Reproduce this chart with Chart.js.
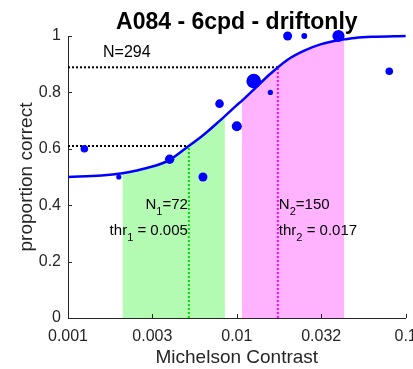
<!DOCTYPE html>
<html>
<head>
<meta charset="utf-8">
<script src="https://cdn.jsdelivr.net/npm/chart.js@4.4.1/dist/chart.umd.min.js"></script>
<style>
    html, body { margin: 0; padding: 0; background: #fff; }
</style>
</head>
<body>
<canvas id="psy-chart" width="413" height="369"></canvas>
<script>
const chartTitle = "A084 - 6cpd - driftonly";

// data points: contrast, proportion correct, number of trials
const contrast = [0.00125, 0.002, 0.004, 0.0063, 0.0079, 0.01, 0.0126, 0.0158, 0.02, 0.0251, 0.04, 0.08];
const pCorrect = [0.60, 0.50, 0.563, 0.50, 0.76, 0.68, 0.84, 0.80, 1.0, 1.0, 1.0, 0.875];
const nTrials = [17, 8, 26, 24, 22, 30, 64, 8, 24, 10, 44, 17];

// fitted curve
const fitX = [0.001, 0.00158, 0.0021, 0.00251, 0.00316, 0.00398, 0.00501, 0.00631, 0.00794, 0.0085, 0.01, 0.0107, 0.0126, 0.0158, 0.02, 0.0251, 0.0316, 0.0398, 0.0433, 0.0501, 0.0631, 0.1];
const fitY = [0.50, 0.505, 0.513, 0.522, 0.537, 0.56, 0.603, 0.648, 0.70, 0.716, 0.755, 0.77, 0.81, 0.866, 0.916, 0.948, 0.971, 0.985, 0.988, 0.993, 0.997, 1.0];

// shaded ranges and thresholds
const range1 = [0.0021, 0.0085];
const range2 = [0.0107, 0.0433];
const thresholds = [0.0052, 0.0175];
const thrLevels = [0.61, 0.889];
const thrLabels = ["0.005", "0.017"];
const nTotal = 294;
const nRanges = [72, 150];

// axis ticks
const xTicks = [0.001, 0.00316, 0.01, 0.0316, 0.1];
const xTickLabels = ["0.001", "0.003", "0.01", "0.032", "0.1"];
const yTicks = [0, 0.2, 0.4, 0.6, 0.8, 1];

const FONT = "'Liberation Sans', Arial, sans-serif";
const AXIS_COLOR = "#262626";

const toPts = (xs, ys) => xs.map((x, i) => ({ x: x, y: ys[i] }));
const fitPts = toPts(fitX, fitY);
const inRange = r => fitPts.filter(p => p.x >= r[0] && p.x <= r[1]);

// draw text with a subscript part, anchored left or right
function drawSubText(ctx, parts, x, y, align) {
    const big = "15px " + FONT, small = "11px " + FONT;
    let w = 0;
    parts.forEach(p => {
        ctx.font = p.sub ? small : big;
        w += ctx.measureText(p.t).width;
    });
    let cx = align === "right" ? x - w : x;
    ctx.textAlign = "left";
    ctx.textBaseline = "alphabetic";
    parts.forEach(p => {
        ctx.font = p.sub ? small : big;
        ctx.fillText(p.t, cx, p.sub ? y + 6 : y);
        cx += ctx.measureText(p.t).width;
    });
}

const decorPlugin = {
    id: "decor",
    afterDraw(chart) {
        const ctx = chart.ctx;
        const xs = chart.scales.x, ys = chart.scales.y;
        const area = chart.chartArea;
        ctx.save();

        // inward tick marks
        ctx.strokeStyle = AXIS_COLOR;
        ctx.lineWidth = 1;
        ctx.beginPath();
        xTicks.forEach(v => {
            const px = Math.round(xs.getPixelForValue(v)) + 0.5;
            ctx.moveTo(px, area.bottom);
            ctx.lineTo(px, area.bottom - 4);
        });
        yTicks.forEach(v => {
            const py = Math.round(ys.getPixelForValue(v)) + 0.5;
            ctx.moveTo(area.left, py);
            ctx.lineTo(area.left + 4, py);
        });
        ctx.stroke();

        // title
        ctx.fillStyle = "#000";
        ctx.font = "bold 23px " + FONT;
        ctx.textAlign = "center";
        ctx.textBaseline = "alphabetic";
        ctx.fillText(chartTitle, (area.left + area.right) / 2, 29);

        // annotations
        ctx.font = "16px " + FONT;
        ctx.textAlign = "left";
        ctx.fillText("N=" + nTotal, 103, 57);

        const t1 = xs.getPixelForValue(thresholds[0]) - 1;
        const t2 = xs.getPixelForValue(thresholds[1]) + 1;
        drawSubText(ctx, [{ t: "N" }, { t: "1", sub: true }, { t: "=" + nRanges[0] }], t1, 209, "right");
        drawSubText(ctx, [{ t: "thr" }, { t: "1", sub: true }, { t: " = " + thrLabels[0] }], t1, 235, "right");
        drawSubText(ctx, [{ t: "N" }, { t: "2", sub: true }, { t: "=" + nRanges[1] }], t2, 209, "left");
        drawSubText(ctx, [{ t: "thr" }, { t: "2", sub: true }, { t: " = " + thrLabels[1] }], t2, 235, "left");
        ctx.restore();
    }
};

const dotted = (color, pts) => ({
    data: pts,
    showLine: true,
    borderColor: color,
    borderWidth: 2,
    borderDash: [2, 2],
    pointRadius: 0,
    fill: false
});

const shade = (color, pts) => ({
    data: pts,
    showLine: true,
    borderWidth: 0,
    borderColor: "rgba(0,0,0,0)",
    backgroundColor: color,
    pointRadius: 0,
    cubicInterpolationMode: "monotone",
    fill: "origin"
});

new Chart(document.getElementById("psy-chart"), {
    type: "scatter",
    data: {
        datasets: [
            {
                // observed points, size by trial count
                data: toPts(contrast, pCorrect),
                backgroundColor: "#0000ff",
                borderColor: "#0000ff",
                borderWidth: 0,
                pointRadius: nTrials.map(n => 0.92 * Math.sqrt(n)),
                clip: false
            },
            {
                data: fitPts,
                showLine: true,
                borderColor: "#0000ff",
                borderWidth: 2.5,
                pointRadius: 0,
                cubicInterpolationMode: "monotone",
                fill: false,
                clip: false
            },
            dotted("#000000", [{ x: 0.001, y: thrLevels[0] }, { x: thresholds[0], y: thrLevels[0] }]),
            dotted("#000000", [{ x: 0.001, y: thrLevels[1] }, { x: thresholds[1], y: thrLevels[1] }]),
            dotted("#00dd00", [{ x: thresholds[0], y: 0 }, { x: thresholds[0], y: thrLevels[0] }]),
            dotted("#ff00ff", [{ x: thresholds[1], y: 0 }, { x: thresholds[1], y: thrLevels[1] }]),
            shade("rgb(179,250,179)", inRange(range1)),
            shade("rgb(255,179,255)", inRange(range2))
        ]
    },
    options: {
        responsive: false,
        animation: false,
        events: [],
        layout: { padding: { top: 36, right: 7, left: 0, bottom: 0 } },
        plugins: {
            legend: { display: false },
            tooltip: { enabled: false }
        },
        scales: {
            x: {
                type: "logarithmic",
                min: 0.001,
                max: 0.1,
                afterBuildTicks: s => { s.ticks = xTicks.map(v => ({ value: v })); },
                afterFit: s => { s.height = 51; s.paddingLeft = 0; s.paddingRight = 0; },
                ticks: {
                    color: AXIS_COLOR,
                    font: { family: FONT, size: 16 },
                    padding: 9,
                    maxRotation: 0,
                    callback: (v, i) => xTickLabels[i]
                },
                grid: { display: false, drawTicks: false },
                border: { display: true, color: AXIS_COLOR, width: 1 },
                title: {
                    display: true,
                    text: "Michelson Contrast",
                    color: AXIS_COLOR,
                    font: { family: FONT, size: 19 },
                    padding: { top: 0, bottom: 0 }
                }
            },
            y: {
                min: 0,
                max: 1,
                afterBuildTicks: s => { s.ticks = yTicks.map(v => ({ value: v })); },
                afterFit: s => { s.width = 68; },
                ticks: {
                    color: AXIS_COLOR,
                    font: { family: FONT, size: 16 },
                    padding: 7,
                    callback: v => String(Math.round(v * 10) / 10)
                },
                grid: { display: false, drawTicks: false },
                border: { display: true, color: AXIS_COLOR, width: 1 },
                title: {
                    display: true,
                    text: "proportion correct",
                    color: AXIS_COLOR,
                    font: { family: FONT, size: 19 },
                    padding: { top: 15, bottom: 0 }
                }
            }
        }
    },
    plugins: [decorPlugin]
});
</script>
</body>
</html>
